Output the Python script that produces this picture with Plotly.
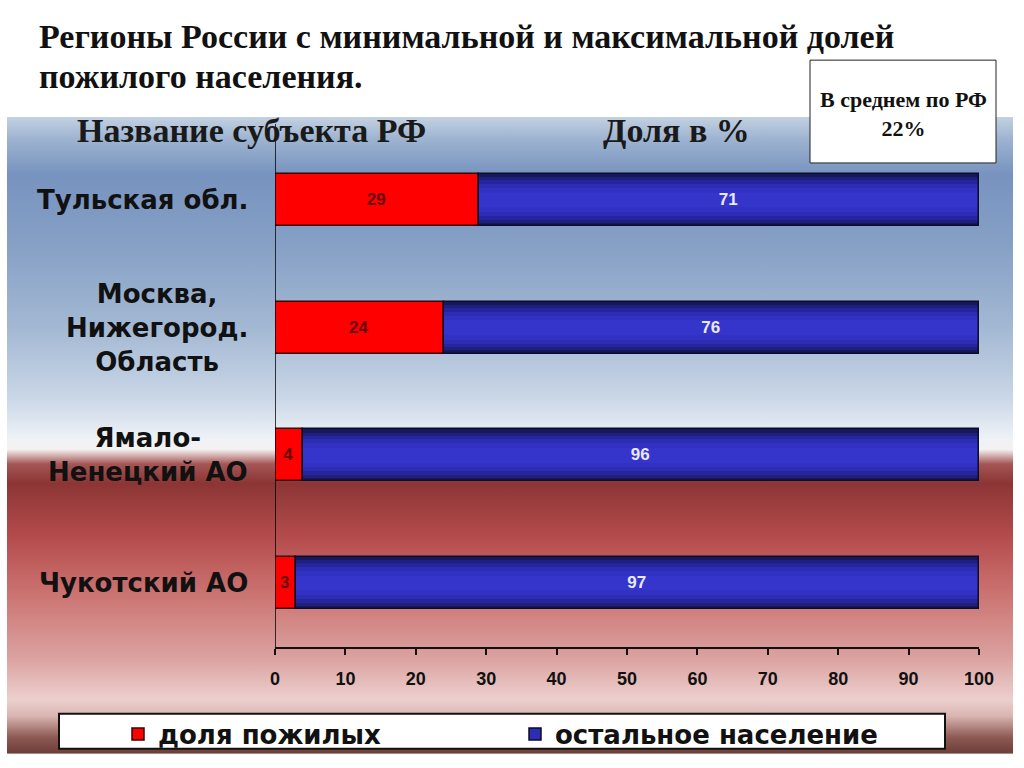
import base64
import plotly.graph_objects as go

# ---- data ----
categories = ["Тульская обл.", "Москва,<br>Нижегород.<br>Область", "Ямало-<br>Ненецкий АО", "Чукотский АО"]
elderly = [29, 24, 4, 3]
rest = [71, 76, 96, 97]
series_names = ["доля пожилых", "остальное население"]
x_ticks = [0, 10, 20, 30, 40, 50, 60, 70, 80, 90, 100]
title_lines = ["Регионы России с минимальной и максимальной долей", "пожилого населения."]
header_left = "Название субъекта РФ"
header_right = "Доля в %"
avg_text = "В среднем по РФ<br>22%"

W, H = 1024, 768
L, R, T, B = 275, 979, 136, 648


def px(x):
    return (x - L) / (R - L)


def py(y):
    return (B - y) / (B - T)


SANS = "Liberation Sans, Arial, sans-serif"
WIDE = "DejaVu Sans, Liberation Sans, sans-serif"
SERIF = "Liberation Serif, Times New Roman, serif"

# background gradient panel (svg)
stops = [
    (0.000, "#c3d1e2"), (0.035, "#9db3d0"), (0.090, "#7793bf"), (0.200, "#86a0c5"),
    (0.330, "#a3b8d3"), (0.440, "#c9d6e6"), (0.505, "#eef2f7"), (0.522, "#f4f1f1"),
    (0.545, "#a45654"), (0.575, "#8c3535"), (0.660, "#b54c4c"), (0.750, "#cb7472"),
    (0.850, "#dba2a0"), (0.915, "#ecd0ce"), (0.940, "#dab6b2"), (0.975, "#8c5852"),
    (1.000, "#6d3d38"),
]
stop_xml = "".join(f'<stop offset="{o}" stop-color="{c}"/>' for o, c in stops)
svg = (
    '<svg xmlns="http://www.w3.org/2000/svg" width="1006" height="638" viewBox="0 0 1006 638" preserveAspectRatio="none">'
    f'<defs><linearGradient id="g" x1="0" y1="0" x2="0" y2="1">{stop_xml}</linearGradient></defs>'
    '<rect x="0" y="0" width="1006" height="638" fill="url(#g)"/></svg>'
)
svg_uri = "data:image/svg+xml;base64," + base64.b64encode(svg.encode("utf-8")).decode("ascii")

fig = go.Figure()

BAR_W = 0.406

# red series
fig.add_trace(go.Bar(
    y=categories, x=elderly, base=[0] * len(elderly), orientation="h", width=BAR_W,
    name=series_names[0], marker=dict(color="#ff0000", line=dict(color="#3a0000", width=1.5)),
    text=elderly, textposition="inside", insidetextanchor="middle",
    textfont=dict(family=SANS, size=17, color="#6a0000", weight="bold"),
    showlegend=True, legendrank=1,
))

# blue series: layered bars to imitate vertical shading
blue_layers = [(1.00, "#17175c"), (0.88, "#1f1f80"), (0.76, "#26269c"),
               (0.62, "#2c2cb4"), (0.46, "#3131c4"), (0.28, "#3535cc")]
for frac, col in blue_layers:
    fig.add_trace(go.Bar(
        y=categories, x=rest, base=elderly, orientation="h", width=BAR_W * frac,
        marker=dict(color=col, line=dict(width=0)), showlegend=False, hoverinfo="skip",
    ))
fig.add_trace(go.Bar(
    y=categories, x=rest, base=elderly, orientation="h", width=BAR_W,
    marker=dict(color="rgba(0,0,0,0)", line=dict(color="#0b0b2a", width=1.5)),
    text=rest, textposition="inside", insidetextanchor="middle",
    textfont=dict(family=SANS, size=17, color="#e8e8ff", weight="bold"),
    showlegend=False,
))
# legend entry for blue series
fig.add_trace(go.Bar(
    y=[None], x=[None], orientation="h", name=series_names[1],
    marker=dict(color="#2d2db4", line=dict(color="#0b0b2a", width=1.5)),
    showlegend=True, legendrank=2,
))

annotations = []
for cat in categories:
    annotations.append(dict(
        x=px(250), xref="paper", y=cat, yref="y", xanchor="right", yanchor="middle",
        text=cat, showarrow=False, align="center",
        font=dict(family=WIDE, size=26, color="#111111", weight="bold"),
    ))
for i, line in enumerate(title_lines):
    annotations.append(dict(
        x=px(37), y=py(36 + 40 * i), xref="paper", yref="paper", xanchor="left", yanchor="middle",
        text=line, showarrow=False,
        font=dict(family=SERIF, size=34, color="#111111", weight="bold")))
annotations += [
    dict(x=px(251), y=py(130), xref="paper", yref="paper", xanchor="center", yanchor="middle",
         text=header_left, showarrow=False,
         font=dict(family=SERIF, size=34, color="#1a1a1a", weight="bold")),
    dict(x=px(676), y=py(130), xref="paper", yref="paper", xanchor="center", yanchor="middle",
         text=header_right, showarrow=False,
         font=dict(family=SERIF, size=34, color="#1a1a1a", weight="bold")),
    dict(x=px(903), y=py(114), xref="paper", yref="paper", xanchor="center", yanchor="middle",
         text=avg_text, showarrow=False, align="center",
         font=dict(family=SERIF, size=22, color="#111111", weight="bold")),
]

shapes = [
    # average box
    dict(type="rect", xref="paper", yref="paper", x0=px(810), x1=px(996), y0=py(60), y1=py(163),
         fillcolor="white", line=dict(color="#222222", width=1), layer="below"),
    # legend box
    dict(type="rect", xref="paper", yref="paper", x0=px(59), x1=px(945), y0=py(715), y1=py(750),
         fillcolor="white", line=dict(color="#111111", width=2), layer="below"),
    # category axis line
    dict(type="line", xref="x", yref="paper", x0=0, x1=0, y0=0, y1=py(124),
         line=dict(color="#000000", width=1.5)),
]

fig.update_layout(
    width=W, height=H,
    margin=dict(l=L, r=W - R, t=T, b=H - B, pad=0),
    paper_bgcolor="white", plot_bgcolor="rgba(0,0,0,0)",
    barmode="overlay", bargap=0,
    showlegend=True,
    legend=dict(orientation="h", x=px(118), y=py(734), xanchor="left", yanchor="middle",
                bgcolor="rgba(0,0,0,0)", borderwidth=0, entrywidth=352, entrywidthmode="pixels",
                font=dict(family=WIDE, size=26, color="#111111", weight="bold"),
                traceorder="normal"),
    xaxis=dict(range=[0, 100], tickvals=x_ticks, ticktext=[str(v) for v in x_ticks],
               showgrid=False, zeroline=False, showline=True, linecolor="#111111", linewidth=2,
               ticks="outside", ticklen=6, tickwidth=1.5, tickcolor="#111111",
               ticklabelstandoff=8,
               tickfont=dict(family=SANS, size=18, color="#111111", weight="bold"), fixedrange=True),
    yaxis=dict(categoryorder="array", categoryarray=categories, autorange="reversed",
               showticklabels=False, showgrid=False, zeroline=False, showline=False, ticks="",
               fixedrange=True),
    images=[dict(source=svg_uri, xref="paper", yref="paper", x=px(7), y=py(117),
                 sizex=(1013 - 7) / (R - L), sizey=(755 - 117) / (B - T),
                 xanchor="left", yanchor="top", sizing="stretch", layer="below")],
    annotations=annotations, shapes=shapes,
)

fig.write_html("out.html", config={"displayModeBar": False})
